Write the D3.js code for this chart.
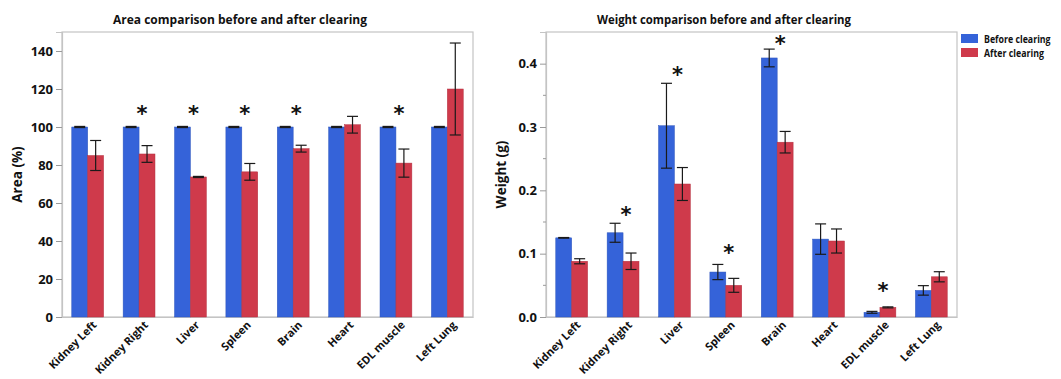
<!DOCTYPE html>
<html>
<head>
<meta charset="utf-8">
<script src="https://cdn.jsdelivr.net/npm/d3@7"></script>
<style>
  html, body { margin: 0; padding: 0; background: #fff; }
  svg { display: block; font-family: "Open Sans", "DejaVu Sans", sans-serif; }
</style>
</head>
<body>
<svg id="chart" width="1061" height="379"></svg>
<script>
// 数据
const organs = ["Kidney Left", "Kidney Right", "Liver", "Spleen", "Brain", "Heart", "EDL muscle", "Left Lung"];
const seriesNames = ["Before clearing", "After clearing"];

const areaBefore = [100, 100, 100, 100, 100, 100, 100, 100];
const areaBeforeErr = [0.3, 0.3, 0.3, 0.3, 0.3, 0.3, 0.3, 0.3];
const areaAfter = [85, 85.8, 73.7, 76.4, 88.6, 101.2, 81, 120];
const areaAfterErr = [7.9, 4.4, 0.3, 4.4, 1.8, 4.4, 7.4, 24.2];
const areaStar = [null, 108, 108, 108, 108, null, 108, null];
const areaTicks = [0, 20, 40, 60, 80, 100, 120, 140];

const weightBefore = [0.125, 0.133, 0.302, 0.071, 0.409, 0.123, 0.0074, 0.042];
const weightBeforeErr = [0.0005, 0.015, 0.067, 0.012, 0.014, 0.024, 0.0015, 0.0075];
const weightAfter = [0.088, 0.088, 0.21, 0.05, 0.276, 0.12, 0.0152, 0.0635];
const weightAfterErr = [0.004, 0.013, 0.026, 0.011, 0.017, 0.019, 0.0008, 0.008];
const weightStar = [null, 0.165, 0.385, 0.105, 0.434, null, 0.045, null];
const weightTicks = [0, 0.1, 0.2, 0.3, 0.4];
const weightMinor = [0.05, 0.15, 0.25, 0.35];

const colors = { before: "#3563d9", after: "#cf3a4b" };
const frameColor = "#c4c4c4";

const svg = d3.select("#chart");

function drawPanel({ left, top, width, height, domain, ticks, minor, fmt, title, titleX, yLabel, yLabelX,
                     before, beforeErr, after, afterErr, stars }) {
  const g = svg.append("g").attr("transform", `translate(${left},${top})`);

  const x0 = d3.scaleBand().domain(organs).range([0, width]).paddingInner(0.38).paddingOuter(0.19);
  const x1 = d3.scaleBand().domain(["before", "after"]).range([0, x0.bandwidth()]);
  const y = d3.scaleLinear().domain(domain).range([height, 0]);

  // 边框
  g.append("rect")
    .attr("width", width).attr("height", height)
    .attr("fill", "none").attr("stroke", frameColor).attr("stroke-width", 1.2);

  // y轴
  const yAxis = g.append("g")
    .call(d3.axisLeft(y).tickValues(ticks).tickFormat(fmt).tickSize(6).tickPadding(3));
  yAxis.select(".domain").attr("stroke", frameColor).attr("stroke-width", 1.2);
  yAxis.selectAll(".tick line").attr("stroke", "#9a9a9a");
  yAxis.selectAll(".tick text")
    .attr("font-size", 13).attr("font-weight", 700).attr("fill", "#111")
    .attr("font-family", "'Open Sans', sans-serif");
  if (minor) {
    g.append("g").selectAll("line").data(minor).join("line")
      .attr("x1", -3).attr("x2", 0)
      .attr("y1", (d) => y(d)).attr("y2", (d) => y(d))
      .attr("stroke", "#9a9a9a");
  }

  // x轴
  const xAxis = g.append("g")
    .attr("transform", `translate(0,${height})`)
    .call(d3.axisBottom(x0).tickSize(0).tickPadding(0));
  xAxis.select(".domain").attr("stroke", frameColor).attr("stroke-width", 1.2);
  xAxis.selectAll(".tick text")
    .attr("font-size", 11).attr("font-weight", 700).attr("fill", "#111")
    .attr("font-family", "'Open Sans', sans-serif")
    .attr("text-anchor", "end")
    .attr("transform", "translate(7,6) rotate(-45)")
    .attr("dy", "0.35em").attr("y", 0);

  // 柱子
  const rows = organs.map((o, i) => ({
    organ: o,
    bars: [
      { key: "before", v: before[i], e: beforeErr[i] },
      { key: "after", v: after[i], e: afterErr[i] },
    ],
    star: stars[i],
  }));

  const grp = g.append("g").selectAll("g").data(rows).join("g")
    .attr("transform", (d) => `translate(${x0(d.organ)},0)`);

  grp.selectAll("rect").data((d) => d.bars).join("rect")
    .attr("x", (d) => x1(d.key))
    .attr("y", (d) => y(d.v))
    .attr("width", x1.bandwidth())
    .attr("height", (d) => height - y(d.v))
    .attr("fill", (d) => colors[d.key])
    .attr("stroke", (d) => d3.color(colors[d.key]).darker(0.4))
    .attr("stroke-width", 0.5);

  // 误差棒
  const cap = 5.5;
  const eb = grp.selectAll("g.err").data((d) => d.bars).join("g").attr("class", "err")
    .attr("stroke", "#1a1a1a").attr("stroke-width", 1.2);
  eb.append("line")
    .attr("x1", (d) => x1(d.key) + x1.bandwidth() / 2)
    .attr("x2", (d) => x1(d.key) + x1.bandwidth() / 2)
    .attr("y1", (d) => y(d.v + d.e)).attr("y2", (d) => y(d.v - d.e));
  eb.selectAll("line.cap").data((d) => [d.v + d.e, d.v - d.e].map((t) => ({ t, key: d.key })))
    .join("line").attr("class", "cap")
    .attr("x1", (d) => x1(d.key) + x1.bandwidth() / 2 - cap)
    .attr("x2", (d) => x1(d.key) + x1.bandwidth() / 2 + cap)
    .attr("y1", (d) => y(d.t)).attr("y2", (d) => y(d.t));

  // 星号
  grp.filter((d) => d.star != null).append("text")
    .text("*")
    .attr("x", x0.bandwidth() / 2 + 3)
    .attr("y", (d) => y(d.star) + 9)
    .attr("text-anchor", "middle")
    .attr("font-size", 21).attr("font-weight", 700).attr("fill", "#111")
    .attr("font-family", "'DejaVu Sans', sans-serif");

  // 标题
  svg.append("text")
    .attr("x", titleX).attr("y", top - 8)
    .attr("text-anchor", "middle")
    .attr("font-size", 12.5).attr("font-weight", 700).attr("fill", "#111")
    .attr("textLength", 254).attr("lengthAdjust", "spacingAndGlyphs")
    .text(title);

  // y轴标题
  svg.append("text")
    .attr("transform", `translate(${yLabelX},${top + height / 2}) rotate(-90)`)
    .attr("text-anchor", "middle")
    .attr("font-size", 13.5).attr("font-weight", 700).attr("fill", "#111")
    .text(yLabel);
}

drawPanel({
  left: 62, top: 32, width: 411, height: 285,
  domain: [0, 150], ticks: areaTicks, minor: null, fmt: d3.format("d"),
  title: "Area comparison before and after clearing", titleX: 240,
  yLabel: "Area (%)", yLabelX: 22,
  before: areaBefore, beforeErr: areaBeforeErr, after: areaAfter, afterErr: areaAfterErr, stars: areaStar,
});

drawPanel({
  left: 546, top: 32, width: 411, height: 285,
  domain: [0, 0.45], ticks: weightTicks, minor: weightMinor, fmt: d3.format(".1f"),
  title: "Weight comparison before and after clearing", titleX: 724,
  yLabel: "Weight (g)", yLabelX: 506,
  before: weightBefore, beforeErr: weightBeforeErr, after: weightAfter, afterErr: weightAfterErr, stars: weightStar,
});

// 图例（横向压缩，模拟窄字体）
const legend = svg.append("g").attr("transform", "translate(961,34)")
  .selectAll("g").data(seriesNames).join("g")
  .attr("transform", (_, i) => `translate(0,${i * 14})`);
legend.append("rect")
  .attr("width", 17).attr("height", 9)
  .attr("fill", (_, i) => (i === 0 ? colors.before : colors.after));
legend.append("text")
  .attr("transform", "translate(23,8.5) scale(0.8,1)")
  .attr("font-size", 11).attr("font-weight", 700).attr("fill", "#111")
  .text((d) => d);
</script>
</body>
</html>
